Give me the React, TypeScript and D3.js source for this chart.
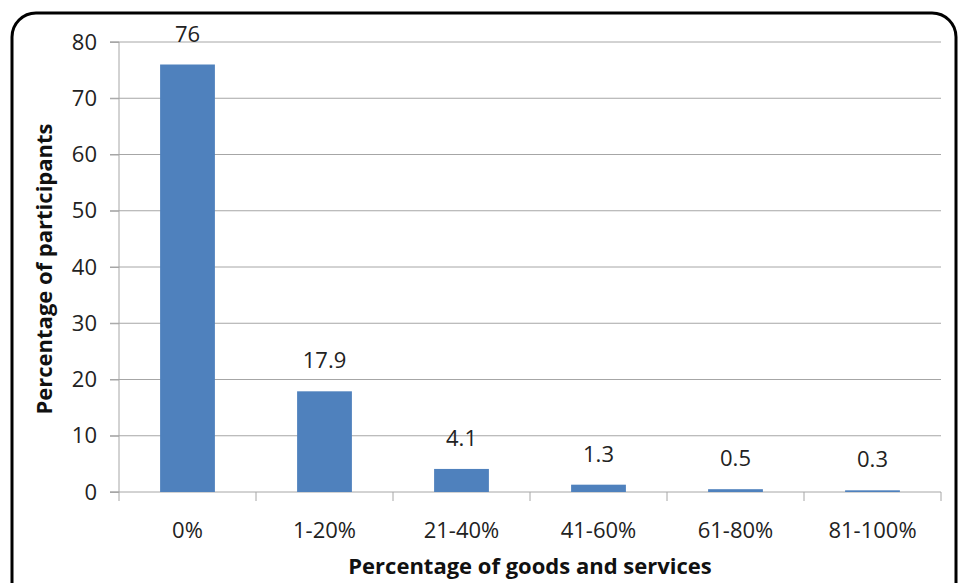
import React, { useRef, useEffect } from "react";
import * as d3 from "d3";

const categories = ["0%", "1-20%", "21-40%", "41-60%", "61-80%", "81-100%"];
const values = [76, 17.9, 4.1, 1.3, 0.5, 0.3];
const labels = ["76", "17.9", "4.1", "1.3", "0.5", "0.3"];
const yTicks = [0, 10, 20, 30, 40, 50, 60, 70, 80];

export default function App() {
  const svgRef = useRef<SVGSVGElement | null>(null);

  useEffect(() => {
    const W = 960;
    const H = 583;
    const margin = { top: 42, right: 19, bottom: 91, left: 119 };
    const width = W - margin.left - margin.right;
    const height = H - margin.top - margin.bottom;
    const font = "'Open Sans', sans-serif";
    const fs = 22;

    const svgEl = d3.select(svgRef.current);
    svgEl.selectAll("*").remove();
    svgEl.attr("width", W).attr("height", H);

    // background + rounded frame
    svgEl.append("rect").attr("width", W).attr("height", H).attr("fill", "white");
    svgEl
      .append("rect")
      .attr("x", 12)
      .attr("y", 13)
      .attr("width", 944)
      .attr("height", 600)
      .attr("rx", 24)
      .attr("fill", "none")
      .attr("stroke", "black")
      .attr("stroke-width", 3);

    const svg = svgEl
      .append("g")
      .attr("transform", `translate(${margin.left},${margin.top})`);

    const x = d3
      .scaleBand()
      .domain(categories)
      .range([0, width])
      .paddingInner(0.6)
      .paddingOuter(0.3);
    const y = d3.scaleLinear().domain([0, 80]).range([height, 0]);

    // gridlines
    svg
      .append("g")
      .selectAll("line")
      .data(yTicks.filter((t) => t > 0))
      .join("line")
      .attr("x1", -9)
      .attr("x2", width)
      .attr("y1", (d) => y(d))
      .attr("y2", (d) => y(d))
      .attr("stroke", "#a6a6a6")
      .attr("stroke-width", 1);

    // y axis
    const yAxis = svg
      .append("g")
      .call(d3.axisLeft(y).tickValues(yTicks).tickSize(9).tickPadding(13));
    yAxis.select(".domain").attr("stroke", "#a6a6a6").attr("d", `M-9,${height}H0V0H-9`);
    yAxis.selectAll(".tick line").attr("stroke", "#a6a6a6");
    yAxis
      .selectAll(".tick text")
      .attr("font-family", font)
      .attr("font-size", fs)
      .attr("fill", "#222");

    // x axis
    const xAxis = svg.append("g").attr("transform", `translate(0,${height})`);
    xAxis
      .append("line")
      .attr("x1", -9)
      .attr("x2", width)
      .attr("stroke", "#a6a6a6");
    const step = x.step();
    xAxis
      .selectAll("line.tk")
      .data(d3.range(categories.length + 1))
      .join("line")
      .attr("class", "tk")
      .attr("x1", (i) => i * step)
      .attr("x2", (i) => i * step)
      .attr("y1", 0)
      .attr("y2", 9)
      .attr("stroke", "#a6a6a6");
    xAxis
      .selectAll("text")
      .data(categories)
      .join("text")
      .attr("x", (d) => (x(d) ?? 0) + x.bandwidth() / 2)
      .attr("y", 46)
      .attr("text-anchor", "middle")
      .attr("font-family", font)
      .attr("font-size", fs)
      .attr("fill", "#222")
      .text((d) => d);

    // bars
    svg
      .selectAll("rect.bar")
      .data(values)
      .join("rect")
      .attr("class", "bar")
      .attr("x", (_, i) => x(categories[i]) ?? 0)
      .attr("y", (d) => y(d))
      .attr("width", x.bandwidth())
      .attr("height", (d) => height - y(d))
      .attr("fill", "#4f81bd");

    // data labels
    svg
      .selectAll("text.lbl")
      .data(values)
      .join("text")
      .attr("class", "lbl")
      .attr("x", (_, i) => (x(categories[i]) ?? 0) + x.bandwidth() / 2)
      .attr("y", (d) => y(d) - 23)
      .attr("text-anchor", "middle")
      .attr("font-family", font)
      .attr("font-size", fs)
      .attr("fill", "#222")
      .text((_, i) => labels[i]);

    // axis titles
    svgEl
      .append("text")
      .attr("x", margin.left + width / 2)
      .attr("y", 574)
      .attr("text-anchor", "middle")
      .attr("font-family", font)
      .attr("font-weight", "bold")
      .attr("font-size", 22)
      .attr("fill", "#111")
      .text("Percentage of goods and services");

    svgEl
      .append("text")
      .attr("transform", `translate(52,${margin.top + height / 2 + 2}) rotate(-90)`)
      .attr("text-anchor", "middle")
      .attr("font-family", font)
      .attr("font-weight", "bold")
      .attr("font-size", 22)
      .attr("fill", "#111")
      .text("Percentage of participants");
  }, []);

  return (
    <div style={{ position: "absolute", left: 0, top: 0 }}>
      <svg ref={svgRef} style={{ display: "block" }} />
    </div>
  );
}
